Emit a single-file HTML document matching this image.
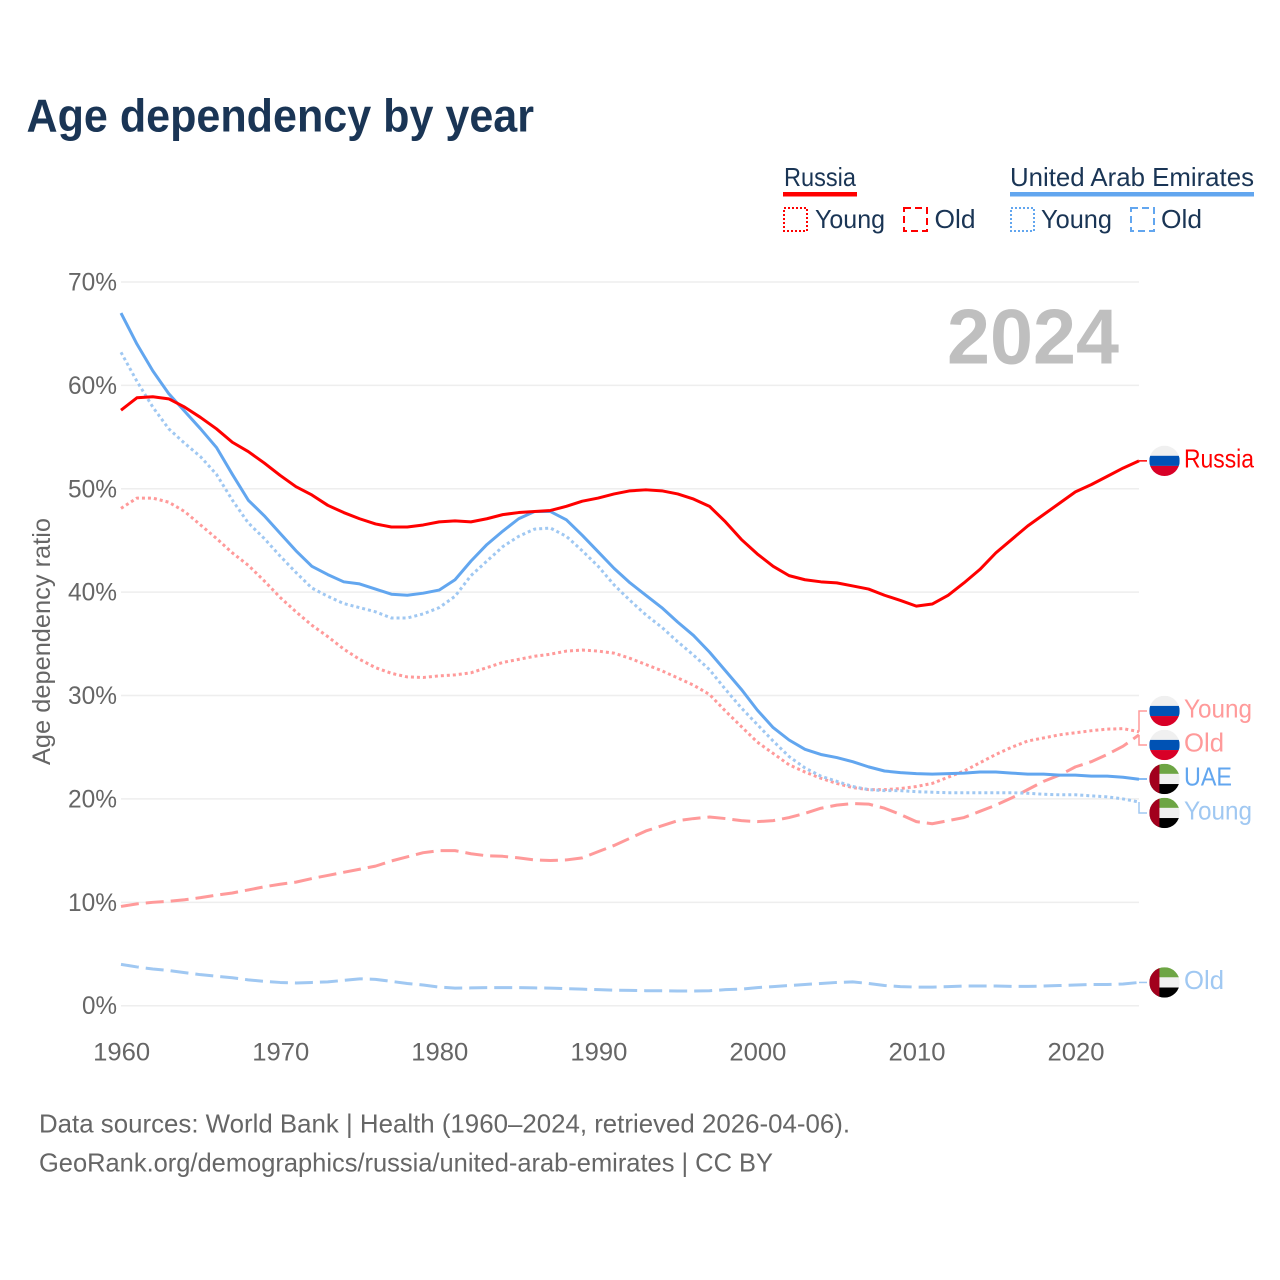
<!DOCTYPE html>
<html lang="en">
<head>
<meta charset="utf-8">
<title>Age dependency by year</title>
<style>
html,body{margin:0;padding:0;background:#fff;width:1280px;height:1280px;overflow:hidden}
svg{display:block;font-family:"Liberation Sans",sans-serif}
</style>
</head>
<body>
<svg id="chart" xmlns="http://www.w3.org/2000/svg" width="1280" height="1280" viewBox="0 0 1280 1280">
  <rect width="1280" height="1280" fill="#fff"/>
  <text x="26.5" y="131.5" font-size="46" font-weight="700" fill="#1a3555" textLength="507.5" lengthAdjust="spacingAndGlyphs">Age dependency by year</text>

  <g>
    <text x="784" y="186" font-size="26" fill="#1a3555" textLength="72" lengthAdjust="spacingAndGlyphs">Russia</text>
    <rect x="783" y="192" width="74" height="4.5" fill="#ff0000"/>
    <rect x="784" y="208" width="23" height="23" fill="none" stroke="#ff0000" stroke-width="2" stroke-dasharray="2 2"/>
    <text x="815" y="228" font-size="26" fill="#1a3555" textLength="70" lengthAdjust="spacingAndGlyphs">Young</text>
    <rect x="904" y="208" width="23" height="23" fill="none" stroke="#ff0000" stroke-width="2" stroke-dasharray="7 4"/>
    <text x="934.5" y="228" font-size="26" fill="#1a3555" textLength="41" lengthAdjust="spacingAndGlyphs">Old</text>

    <text x="1010" y="186" font-size="26" fill="#1a3555" textLength="244" lengthAdjust="spacingAndGlyphs">United Arab Emirates</text>
    <rect x="1010" y="192" width="244" height="4.5" fill="#62a6ef"/>
    <rect x="1011" y="208" width="23" height="23" fill="none" stroke="#62a6ef" stroke-width="2" stroke-dasharray="2 2"/>
    <text x="1041" y="228" font-size="26" fill="#1a3555" textLength="71" lengthAdjust="spacingAndGlyphs">Young</text>
    <rect x="1131" y="208" width="23" height="23" fill="none" stroke="#62a6ef" stroke-width="2" stroke-dasharray="7 4"/>
    <text x="1161" y="228" font-size="26" fill="#1a3555" textLength="41" lengthAdjust="spacingAndGlyphs">Old</text>
  </g>

  <g id="grid"></g>
  <text x="1119" y="363.5" font-size="78" font-weight="700" fill="#bfbfbf" text-anchor="end" textLength="172" lengthAdjust="spacingAndGlyphs">2024</text>
  <g id="yticks"></g>
  <g id="xticks"></g>
  <text transform="translate(50,641.5) rotate(-90)" font-size="25" fill="#666" text-anchor="middle" textLength="247" lengthAdjust="spacingAndGlyphs">Age dependency ratio</text>
  <g id="series"></g>
  <g id="endlabels"></g>

  <g font-size="26" fill="#666">
    <text x="39" y="1132.5" textLength="811" lengthAdjust="spacingAndGlyphs">Data sources: World Bank | Health (1960–2024, retrieved 2026-04-06).</text>
    <text x="39" y="1171.5" textLength="734" lengthAdjust="spacingAndGlyphs">GeoRank.org/demographics/russia/united-arab-emirates | CC BY</text>
  </g>
</svg>
<script>
const startYear = 1960;
const endYear = 2024;
const yTickValues = [0, 10, 20, 30, 40, 50, 60, 70];
const xTickValues = [1960, 1970, 1980, 1990, 2000, 2010, 2020];

const russiaTotal = [57.6,58.8,58.9,58.7,57.9,56.9,55.8,54.5,53.6,52.5,51.3,50.2,49.4,48.4,47.7,47.1,46.6,46.3,46.3,46.5,46.8,46.9,46.8,47.1,47.5,47.7,47.8,47.9,48.3,48.8,49.1,49.5,49.8,49.9,49.8,49.5,49.0,48.3,46.8,45.1,43.7,42.5,41.6,41.2,41.0,40.9,40.6,40.3,39.7,39.2,38.65,38.85,39.7,40.9,42.2,43.8,45.1,46.4,47.5,48.6,49.7,50.4,51.2,52.0,52.7];
const russiaYoung = [48.1,49.1,49.1,48.7,47.8,46.5,45.2,43.8,42.6,41.1,39.5,38.1,36.8,35.7,34.5,33.5,32.7,32.15,31.8,31.75,31.9,32.0,32.2,32.7,33.2,33.5,33.8,34.0,34.3,34.4,34.3,34.1,33.6,33.0,32.4,31.7,31.0,30.1,28.5,27.0,25.5,24.4,23.3,22.6,22.0,21.5,21.1,20.9,20.9,21.0,21.2,21.5,22.1,22.7,23.5,24.3,25.0,25.6,25.9,26.2,26.4,26.6,26.75,26.8,26.5];
const russiaOld = [9.6,9.85,10,10.1,10.25,10.45,10.7,10.9,11.2,11.5,11.75,11.95,12.3,12.6,12.9,13.2,13.5,14,14.4,14.8,15.0,15,14.7,14.5,14.45,14.3,14.1,14.05,14.1,14.3,14.9,15.5,16.2,16.9,17.4,17.9,18.1,18.25,18.1,17.9,17.8,17.9,18.2,18.6,19.1,19.4,19.55,19.5,19.1,18.5,17.8,17.6,17.9,18.2,18.8,19.4,20.1,20.9,21.7,22.3,23.1,23.6,24.3,25.1,26.2];
const uaeTotal = [67.0,64.0,61.4,59.2,57.5,55.8,54.0,51.4,48.9,47.4,45.7,44.0,42.5,41.7,41.0,40.8,40.3,39.8,39.7,39.9,40.2,41.2,43.0,44.6,45.9,47.1,47.8,47.8,47.0,45.5,43.9,42.3,40.9,39.7,38.5,37.1,35.8,34.2,32.4,30.6,28.6,26.9,25.7,24.8,24.3,24.0,23.6,23.1,22.7,22.55,22.45,22.4,22.45,22.5,22.6,22.6,22.5,22.4,22.4,22.3,22.3,22.2,22.2,22.1,21.9];
const uaeYoung = [63.2,60.4,57.9,55.8,54.4,53.1,51.4,48.9,46.7,45.2,43.5,41.9,40.4,39.6,38.9,38.5,38.1,37.5,37.5,37.9,38.5,39.6,41.6,43,44.4,45.4,46.1,46.2,45.4,44,42.5,40.7,39.2,37.8,36.6,35.2,33.9,32.5,30.6,28.8,27.2,25.6,24.1,23.0,22.2,21.7,21.2,20.9,20.8,20.8,20.7,20.65,20.6,20.6,20.6,20.6,20.6,20.55,20.45,20.4,20.4,20.3,20.2,20.0,19.7];
const uaeOld = [4.0,3.75,3.55,3.4,3.2,3.0,2.85,2.7,2.5,2.35,2.25,2.2,2.25,2.3,2.45,2.6,2.55,2.35,2.15,2.0,1.8,1.7,1.72,1.75,1.75,1.75,1.72,1.7,1.65,1.6,1.55,1.5,1.48,1.45,1.44,1.42,1.42,1.45,1.55,1.6,1.75,1.85,1.95,2.05,2.15,2.25,2.3,2.15,1.95,1.85,1.8,1.8,1.85,1.9,1.9,1.9,1.87,1.87,1.9,1.95,2.0,2.05,2.05,2.1,2.25];

const NS = 'http://www.w3.org/2000/svg';
const plotLeft = 121, plotRight = 1139, plotBottom = 1005.7, plotTop = 282;
function xScale(year){ return plotLeft + (year - startYear) * (plotRight - plotLeft) / (endYear - startYear); }
function yScale(v){ return plotBottom - v * (plotBottom - plotTop) / 70; }
function make(tag, attrs, parent){
  const el = document.createElementNS(NS, tag);
  for (const k in attrs) el.setAttribute(k, attrs[k]);
  parent.appendChild(el);
  return el;
}

const gridG = document.getElementById('grid');
const yG = document.getElementById('yticks');
yTickValues.forEach(function(v){
  const line = make('line', {x1: plotLeft, x2: plotRight, y1: yScale(v), y2: yScale(v), stroke: '#eeeeee', 'stroke-width': 1.5}, gridG);
  
  
  const t = make('text', {x: 117, y: yScale(v) + 8.5, 'font-size': 25, fill: '#666', 'text-anchor': 'end', textLength: v === 0 ? 35 : 49, lengthAdjust: 'spacingAndGlyphs'}, yG);
  
  
  t.textContent = v + '%';
});

const xG = document.getElementById('xticks');
xTickValues.forEach(function(yr){
  const t = make('text', {x: xScale(yr) + 0.7, y: 1060.5, 'font-size': 25, fill: '#666', 'text-anchor': 'middle', textLength: 57, lengthAdjust: 'spacingAndGlyphs'}, xG);
  
  
  t.textContent = yr;
});

function linePath(values){
  return values.map(function(v, i){
    return (i ? 'L' : 'M') + xScale(startYear + i).toFixed(2) + ' ' + yScale(v).toFixed(2);
  }).join('');
}
const seriesG = document.getElementById('series');
function drawSeries(name, values, color, dash){
  const attrs = {d: linePath(values), fill: 'none', stroke: color, 'stroke-width': 3, 'stroke-linejoin': 'round'};
  if (dash) attrs['stroke-dasharray'] = dash;
  const p = make('path', attrs, seriesG);
  
  
}
const DOT = '3 3', DASH = '18 7';
const RED = '#ff0000', PINK = '#ff9a9a', BLUE = '#62a6ef', SKY = '#a0c8f2';
drawSeries('line-russia-old', russiaOld, PINK, DASH);
drawSeries('line-russia-young', russiaYoung, PINK, DOT);
drawSeries('line-uae-old', uaeOld, SKY, DASH);
drawSeries('line-uae-young', uaeYoung, SKY, DOT);
drawSeries('line-uae-total', uaeTotal, BLUE);
drawSeries('line-russia-total', russiaTotal, RED);

/* end labels: dodge collisions by merging overlapping clusters around their mean */
const endItems = [
  {label: 'Russia', kind: 'ru', color: RED,  w: 70, values: russiaTotal, name: 'russia'},
  {label: 'Young',  kind: 'ru', color: PINK, w: 68, values: russiaYoung, name: 'russia-young'},
  {label: 'Old',    kind: 'ru', color: PINK, w: 40, values: russiaOld,   name: 'russia-old'},
  {label: 'UAE',    kind: 'ae', color: BLUE, w: 48, values: uaeTotal,    name: 'uae'},
  {label: 'Young',  kind: 'ae', color: SKY,  w: 68, values: uaeYoung,    name: 'uae-young'},
  {label: 'Old',    kind: 'ae', color: SKY,  w: 40, values: uaeOld,      name: 'uae-old'}
];
const GAP = 34;
endItems.forEach(function(it){ it.endY = yScale(it.values[it.values.length - 1]); });
const sortedItems = endItems.slice().sort(function(a, b){ return a.endY - b.endY; });
let clusters = sortedItems.map(function(it){ return {items: [it], center: it.endY}; });
let merged = true;
while (merged) {
  merged = false;
  for (let i = 0; i < clusters.length - 1; i++) {
    const a = clusters[i], b = clusters[i + 1];
    const aBottom = a.center + (a.items.length - 1) * GAP / 2;
    const bTop = b.center - (b.items.length - 1) * GAP / 2;
    if (bTop - aBottom < GAP) {
      const items = a.items.concat(b.items);
      const sum = items.reduce(function(s, it){ return s + it.endY; }, 0);
      clusters.splice(i, 2, {items: items, center: sum / items.length});
      merged = true;
      break;
    }
  }
}
clusters.forEach(function(c){
  c.items.forEach(function(it, i){ it.labelY = c.center + (i - (c.items.length - 1) / 2) * GAP; });
});

const endG = document.getElementById('endlabels');
const FLAG_X = 1164.5, FLAG_R = 15.2;
function drawFlag(kind, cy, index){
  const clipId = 'flag-clip-' + index;
  const defs = make('clipPath', {id: clipId}, endG);
  make('circle', {cx: FLAG_X, cy: cy, r: FLAG_R}, defs);
  const g = make('g', {'clip-path': 'url(#' + clipId + ')'}, endG);
  
  
  const x0 = FLAG_X - FLAG_R, top = cy - FLAG_R, d = FLAG_R * 2;
  if (kind === 'ru') {
    make('rect', {x: x0, y: top, width: d, height: d / 3, fill: '#f0f0f0'}, g);
    make('rect', {x: x0, y: top + d / 3, width: d, height: d / 3, fill: '#0052b4'}, g);
    make('rect', {x: x0, y: top + 2 * d / 3, width: d, height: d / 3, fill: '#d80027'}, g);
  } else {
    make('rect', {x: x0, y: top, width: d, height: d / 3, fill: '#6da544'}, g);
    make('rect', {x: x0, y: top + d / 3, width: d, height: d / 3, fill: '#f0f0f0'}, g);
    make('rect', {x: x0, y: top + 2 * d / 3, width: d, height: d / 3, fill: '#000000'}, g);
    make('rect', {x: x0, y: top, width: d / 3, height: d, fill: '#a2001d'}, g);
  }
}
endItems.forEach(function(it, i){
  const conn = make('path', {d: 'M' + plotRight + ' ' + it.endY.toFixed(2) + 'L' + plotRight + ' ' + it.labelY.toFixed(2) + 'L1147 ' + it.labelY.toFixed(2), fill: 'none', stroke: it.color, 'stroke-width': 1.5}, endG);
  
  
  drawFlag(it.kind, it.labelY, i);
  const t = make('text', {x: 1184, y: it.labelY + 6.5, 'font-size': 26, fill: it.color, textLength: it.w, lengthAdjust: 'spacingAndGlyphs'}, endG);
  
  
  t.textContent = it.label;
});
</script>
</body>
</html>
